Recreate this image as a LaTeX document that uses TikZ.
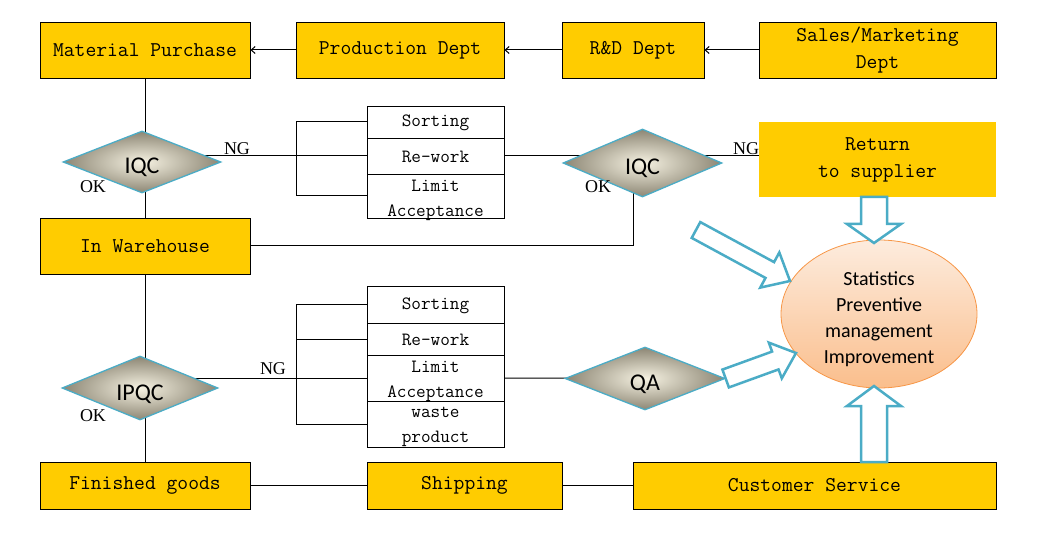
\documentclass[tikz,border=0pt]{standalone}
\usepackage{fontspec}
\newfontfamily\calfont{Carlito}
\newfontfamily\lblfont{Liberation Serif}
\usetikzlibrary{shapes.geometric,calc,arrows.meta}
\definecolor{boxyellow}{RGB}{255,204,0}
\definecolor{dmdborder}{RGB}{75,172,198}
\definecolor{dmdin}{RGB}{246,242,226}
\definecolor{dmdout}{RGB}{140,134,116}
\definecolor{ellborder}{RGB}{247,150,70}
\definecolor{elltop}{RGB}{253,236,222}
\definecolor{ellbot}{RGB}{250,190,140}
\pgfdeclarelayer{bg}
\pgfsetlayers{bg,main}
\newcommand\drawblockarrow[5]{% tail, tip, shaft half width, head half width, head length
  \coordinate (bah) at ($(#2)!#5pt!(#1)$);
  \draw[barrow] ($(#1)!#3pt!90:(#2)$) -- ($(bah)!#3pt!-90:(#1)$) -- ($(bah)!#4pt!-90:(#1)$)
    -- (#2) -- ($(bah)!#4pt!90:(#1)$) -- ($(bah)!#3pt!90:(#1)$) -- ($(#1)!#3pt!-90:(#2)$) -- cycle;}
\tikzset{
  box/.style={rectangle, draw=black, line width=0.9, fill=boxyellow, inner sep=0, align=center,
    font=\ttfamily\fontsize{21}{27}\selectfont},
  subbox/.style={rectangle, draw=black, line width=0.9, fill=white, inner sep=0, minimum width=137},
  subtext/.style={inner sep=0, align=center, font=\ttfamily\fontsize{18.7}{25}\selectfont},
  dmd/.style={diamond, aspect=2.5, draw=dmdborder, line width=1.3, inner color=dmdin, outer color=dmdout,
    inner sep=0, text height=24pt, text depth=0pt, font=\calfont\fontsize{24}{28}\selectfont},
  conn/.style={draw=black, line width=1},
  arr/.style={-{Straight Barb[length=4pt,width=7pt]}},
  lbl/.style={inner sep=0, font=\lblfont\fontsize{18}{20}\selectfont},
  barrow/.style={draw=dmdborder, line width=2.5, fill=white, line join=miter},
  stattext/.style={inner sep=0, align=center, font=\calfont\fontsize{20}{26}\selectfont}
}
\begin{document}
\begin{tikzpicture}[x=1pt,y=-1pt]
\useasboundingbox (0,0) rectangle (1058,540);
% top row
\node[box, minimum width=210, minimum height=56] (mp) at (145,50) {Material Purchase};
\node[box, minimum width=208, minimum height=56] (pd) at (400,50) {Production Dept};
\node[box, minimum width=142, minimum height=56] (rd) at (633,50) {R\&D Dept};
\node[box, minimum width=237, minimum height=56] (sm) at (877.5,50) {Sales/Marketing\\Dept};
% return
\node[box, draw=none, minimum width=237, minimum height=75] (ret) at (877.5,159.5) {Return\\to supplier};
% warehouse and bottom row
\node[box, minimum width=210, minimum height=56] (wh) at (145,246) {In Warehouse};
\node[box, minimum width=210, minimum height=47] (fg) at (145,485.5) {Finished goods};
\node[box, minimum width=195, minimum height=47] (ship) at (464.5,485.5) {Shipping};
\node[box, minimum width=363, minimum height=47] (cs) at (814.5,485.5) {Customer Service};
% upper sub boxes
\node[subbox, minimum height=32] (s1) at (435.5,122) {};
\node[subbox, minimum height=36] (r1) at (435.5,156) {};
\node[subbox, minimum height=44] (l1) at (435.5,196) {};
\node[subtext] (s1t) at (435.5,123) {Sorting};
\node[subtext] (r1t) at (435.5,157) {Re-work};
\node[subtext] (l1t) at (435.5,200) {Limit\\Acceptance};
% lower sub boxes
\node[subbox, minimum height=37] (s2) at (435.5,304.5) {};
\node[subbox, minimum height=32] (r2) at (435.5,339) {};
\node[subbox, minimum height=46] (l2) at (435.5,378) {};
\node[subbox, minimum height=46] (w2) at (435.5,424) {};
\node[subtext] (s2t) at (435.5,305.5) {Sorting};
\node[subtext] (r2t) at (435.5,340) {Re-work};
\node[subtext] (l2t) at (435.5,381) {Limit\\Acceptance};
\node[subtext] (w2t) at (435.5,427) {waste\\product};
% diamonds
\node[dmd, minimum width=158, minimum height=62] (iqc1) at (142,162) {IQC};
\node[dmd, minimum width=159, minimum height=68] (iqc2) at (642.5,163) {IQC};
\node[dmd, minimum width=156, minimum height=64] (ipqc) at (140,388) {IPQC};
\node[dmd, minimum width=160, minimum height=63] (qa) at (645,378.5) {QA};
% ellipse
\node[ellipse, draw=ellborder, line width=0.8, top color=elltop, bottom color=ellbot,
  minimum width=196, minimum height=148] (stat) at (879,314) {};
\node[stattext] (statt) at (879,319) {Statistics\\Preventive\\management\\Improvement};
% labels
\node[lbl] (ng1) at (237,149) {NG};
\node[lbl] (ng2) at (746,149) {NG};
\node[lbl] (ng3) at (273,369) {NG};
\node[lbl] (ok1) at (93,187) {OK};
\node[lbl] (ok2) at (598,187) {OK};
\node[lbl] (ok3) at (93,416) {OK};
% connectors
\coordinate (b1) at (296,0);
\begin{pgfonlayer}{bg}
\draw[conn] (mp.south) -- (wh.north);
\draw[conn] (wh.south) -- (fg.north);
\draw[conn] (r1.west) -- (r1.west -| iqc1.center);
\draw[conn] (s1.west) -- (s1.west -| b1) -- (l1.west -| b1) -- (l1.west);
\draw[conn] (r1.east) -- (r1.east -| iqc2.center);
\draw[conn] (r1.east -| iqc2.center) -- (r1.east -| ret.west);
\draw[conn] (wh.east) -| ($(iqc2.center)+(-9,0)$);
\draw[conn] (l2.west) -- (l2.west -| ipqc.center);
\draw[conn] (s2.west) -- (s2.west -| b1) -- (w2.west -| b1) -- (w2.west);
\draw[conn] (r2.west -| b1) -- (r2.west);
\draw[conn] (l2.east) -- (qa.center);
\draw[conn] (fg) -- (ship);
\draw[conn] (ship) -- (cs);
\end{pgfonlayer}
\draw[conn, arr] (pd.west) -- (mp.east);
\draw[conn, arr] (rd.west) -- (pd.east);
\draw[conn, arr] (sm.west) -- (rd.east);
% block arrows
\coordinate (ra) at (874,197);
\coordinate (rb) at (874,243);
\coordinate (ca) at (874,462);
\coordinate (cb) at (874,386);
\coordinate (d1a) at (696,230);
\coordinate (d1b) at (790,281);
\coordinate (qtip) at (796,353);
\drawblockarrow{ra}{rb}{13}{27}{19}
\drawblockarrow{ca}{cb}{13}{27}{20}
\drawblockarrow{d1a}{d1b}{9}{20}{23}
\drawblockarrow{qa.east}{qtip}{9.5}{19}{22}
\end{tikzpicture}
\end{document}
